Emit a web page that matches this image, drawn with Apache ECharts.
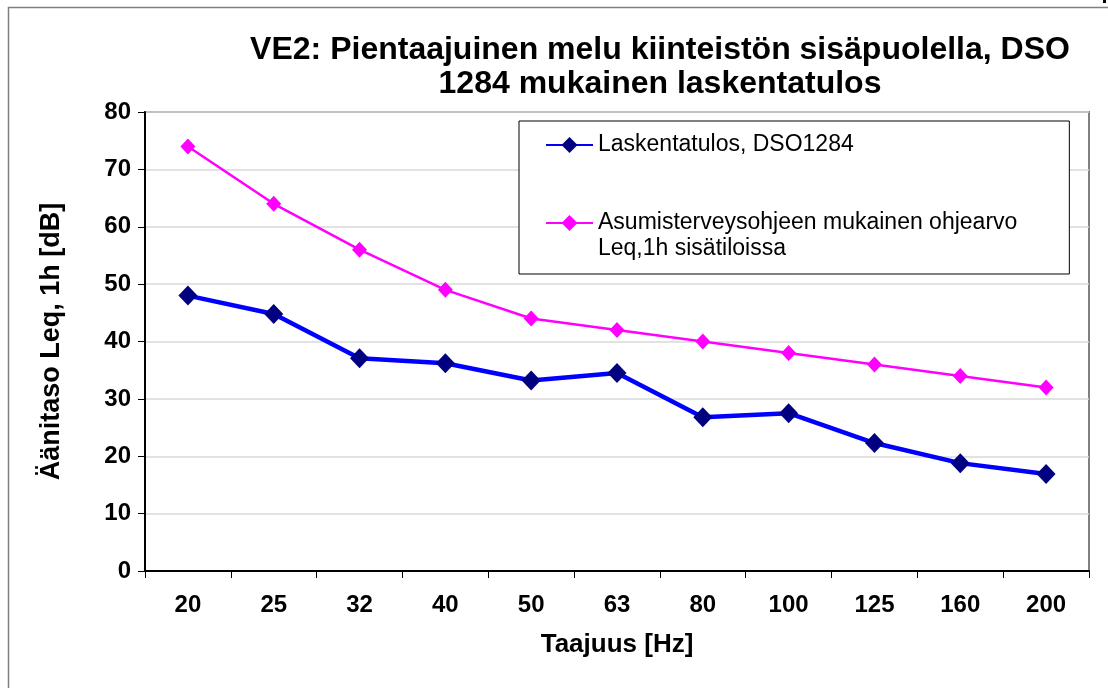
<!DOCTYPE html>
<html>
<head>
<meta charset="utf-8">
<script src="https://cdn.jsdelivr.net/npm/echarts@6/dist/echarts.min.js"></script>
<style>
  html, body { margin: 0; padding: 0; background: #fff; }
  #chart { width: 1108px; height: 688px; }
</style>
</head>
<body>
<div id="chart"></div>
<script>
// Third-octave band centre frequencies (Hz)
const categories = ['20', '25', '32', '40', '50', '63', '80', '100', '125', '160', '200'];
// Calculated indoor low-frequency noise, DSO 1284
const calculated = [48.0, 44.8, 37.1, 36.2, 33.2, 34.5, 26.8, 27.5, 22.3, 18.8, 16.9];
// Housing health guideline values, Leq,1h indoors
const guideline = [74, 64, 56, 49, 44, 42, 40, 38, 36, 34, 32];
const yTicks = [0, 10, 20, 30, 40, 50, 60, 70, 80];

const seriesNames = ['Laskentatulos, DSO1284', 'Asumisterveysohjeen mukainen ohjearvo'];
const guidelineSecondLine = 'Leq,1h sisätiloissa';

const FONT = '"Liberation Sans", Arial, sans-serif';

const chart = echarts.init(document.getElementById('chart'), null, { renderer: 'canvas' });

chart.setOption({
  backgroundColor: '#ffffff',
  animation: false,
  textStyle: { fontFamily: FONT },
  title: {
    text: 'VE2: Pientaajuinen melu kiinteistön sisäpuolella, DSO\n1284 mukainen laskentatulos',
    left: 655,
    top: 28,
    textAlign: 'center',
    textStyle: {
      fontFamily: FONT,
      fontSize: 32,
      fontWeight: 'bold',
      color: '#000',
      lineHeight: 34
    }
  },
  legend: {
    orient: 'vertical',
    left: 519,
    top: 121,
    padding: [11, 52, 12, 26],
    itemGap: 26,
    itemWidth: 47,
    itemHeight: 20,
    backgroundColor: '#fff',
    borderColor: '#000',
    borderWidth: 1,
    data: seriesNames,
    textStyle: {
      fontFamily: FONT,
      fontSize: 23,
      color: '#000',
      lineHeight: 26
    },
    formatter: function (name) {
      if (name === seriesNames[1]) {
        return '\n' + name + '\n' + guidelineSecondLine;
      }
      return name;
    }
  },
  grid: {
    left: 145,
    right: 19,
    top: 112,
    bottom: 117,
    show: true,
    borderColor: '#808080',
    borderWidth: 2,
    backgroundColor: '#fff'
  },
  xAxis: {
    type: 'category',
    data: categories,
    boundaryGap: true,
    name: 'Taajuus [Hz]',
    nameLocation: 'middle',
    nameGap: 61,
    nameTextStyle: { fontFamily: FONT, fontSize: 26, fontWeight: 'bold', color: '#000' },
    axisLine: { lineStyle: { color: '#000', width: 2 } },
    axisTick: { show: true, inside: false, length: 7, alignWithLabel: false, lineStyle: { color: '#000', width: 1 } },
    axisLabel: { margin: 22, fontFamily: FONT, fontSize: 24, fontWeight: 'bold', color: '#000' },
    splitLine: { show: false }
  },
  yAxis: {
    type: 'value',
    min: 0,
    max: 80,
    interval: 10,
    name: 'Äänitaso Leq, 1h [dB]',
    nameLocation: 'middle',
    nameGap: 80,
    nameRotate: 90,
    nameTextStyle: { fontFamily: FONT, fontSize: 27, fontWeight: 'bold', color: '#000' },
    axisLine: { show: true, lineStyle: { color: '#000', width: 2 } },
    axisTick: { show: true, inside: false, length: 7, lineStyle: { color: '#000', width: 1 } },
    axisLabel: {
      margin: 14,
      fontFamily: FONT,
      fontSize: 24,
      fontWeight: 'bold',
      color: '#000',
      formatter: function (v) { return yTicks.indexOf(v) >= 0 ? String(v) : ''; }
    },
    splitLine: { show: true, lineStyle: { color: '#d9d9d9', width: 1.5 } }
  },
  series: [
    {
      name: seriesNames[0],
      type: 'line',
      data: calculated,
      z: 3,
      symbol: 'diamond',
      symbolSize: [19, 20],
      lineStyle: { color: '#0000ff', width: 4.5 },
      itemStyle: { color: '#000080', borderWidth: 0 },
      emphasis: { disabled: true }
    },
    {
      name: seriesNames[1],
      type: 'line',
      data: guideline,
      z: 2,
      symbol: 'diamond',
      symbolSize: [15, 16],
      lineStyle: { color: '#ff00ff', width: 2.5 },
      itemStyle: { color: '#ff00ff', borderWidth: 0 },
      emphasis: { disabled: true }
    }
  ],
  graphic: [
    {
      type: 'polyline',
      silent: true,
      shape: { points: [[8.5, 700], [8.5, 7.5], [1108, 7.5]] },
      style: { stroke: '#808080', lineWidth: 1.5, fill: null }
    },
    {
      type: 'rect',
      silent: true,
      shape: { x: 1103, y: 0, width: 3, height: 3 },
      style: { fill: '#000' }
    }
  ]
});
</script>
</body>
</html>
